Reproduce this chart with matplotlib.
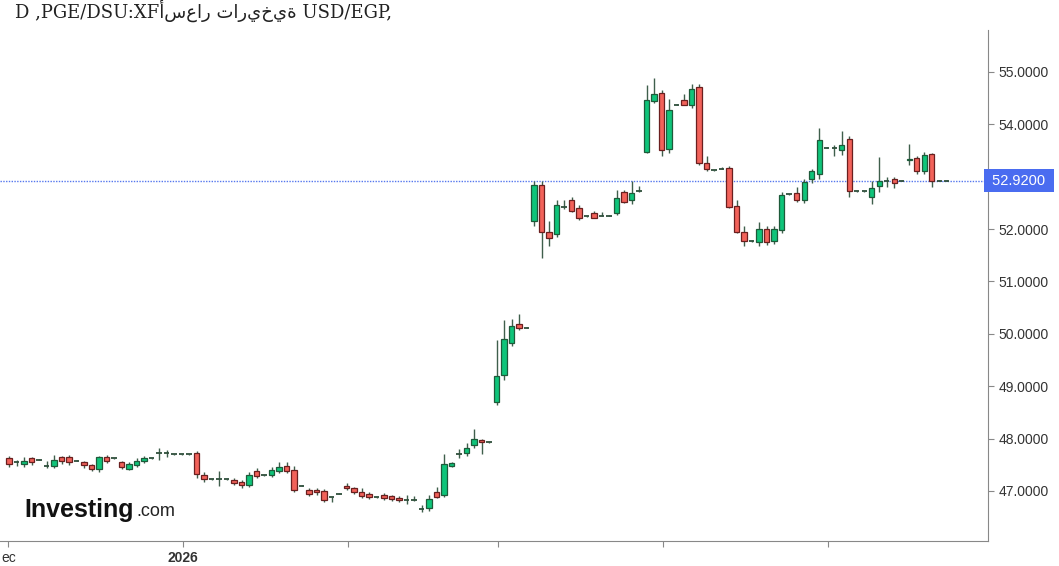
import matplotlib
matplotlib.use("Agg")
import matplotlib.pyplot as plt

# daily OHLC, USD/EGP
opens = [47.62, 47.55, 47.52, 47.62, 47.60, 47.48, 47.48, 47.64, 47.64, 47.58,
         47.55, 47.50, 47.42, 47.64, 47.62, 47.55, 47.42, 47.50, 47.58, 47.62,
         47.72, 47.72, 47.70, 47.70, 47.70, 47.72, 47.30, 47.22, 47.22, 47.22,
         47.20, 47.17, 47.12, 47.38, 47.30, 47.30, 47.38, 47.47, 47.40, 47.10,
         47.02, 47.02, 47.00, 46.88, 46.95, 47.10, 47.05, 46.98, 46.95, 46.88,
         46.93, 46.90, 46.86, 46.82, 46.82, 46.66, 46.68, 46.98, 46.93, 47.48,
         47.70, 47.72, 47.88, 47.97, 47.93,
         48.70, 49.21, 49.82, 50.18, 50.12, 52.15, 52.85, 51.95, 51.90, 52.42,
         52.55, 52.40, 52.24, 52.30, 52.25, 52.25, 52.30, 52.70, 52.55, 52.72,
         53.47, 54.44, 54.60, 53.52, 54.37, 54.47, 54.37, 54.71, 53.26, 53.12,
         53.15, 53.17, 52.44, 51.95, 51.78, 51.75, 52.00, 51.78, 51.98, 52.66,
         52.68, 52.55, 52.95, 53.05, 53.55, 53.55, 53.50, 53.72, 52.72, 52.72,
         52.62, 52.82, 52.92, 52.95, 52.92, 53.32, 53.36, 53.11, 53.44, 52.92, 52.92]
highs = [47.66, 47.60, 47.64, 47.64, 47.61, 47.58, 47.68, 47.66, 47.68, 47.59,
         47.58, 47.52, 47.66, 47.68, 47.63, 47.58, 47.56, 47.62, 47.66, 47.63,
         47.82, 47.78, 47.71, 47.71, 47.71, 47.76, 47.36, 47.23, 47.38, 47.23,
         47.24, 47.20, 47.36, 47.44, 47.31, 47.46, 47.56, 47.56, 47.48, 47.11,
         47.06, 47.06, 47.04, 46.89, 46.96, 47.16, 47.08, 47.06, 46.98, 46.89,
         46.96, 46.92, 46.90, 46.92, 46.90, 46.74, 46.92, 47.08, 47.70, 47.56,
         47.80, 47.92, 48.18, 48.00, 47.94,
         49.88, 50.26, 50.28, 50.38, 50.13, 52.92, 52.92, 52.15, 52.55, 52.55,
         52.62, 52.46, 52.25, 52.34, 52.32, 52.26, 52.75, 52.74, 52.92, 52.82,
         54.75, 54.88, 54.65, 54.48, 54.38, 54.58, 54.76, 54.76, 53.40, 53.13,
         53.18, 53.20, 52.55, 52.05, 51.80, 52.14, 52.06, 52.06, 52.70, 52.67,
         52.80, 52.96, 53.15, 53.92, 53.56, 53.60, 53.88, 53.78, 52.73, 52.73,
         52.92, 53.38, 53.00, 53.00, 52.93, 53.62, 53.40, 53.48, 53.46, 52.93, 52.93]
lows = [47.46, 47.48, 47.46, 47.50, 47.59, 47.44, 47.44, 47.52, 47.50, 47.57,
        47.44, 47.38, 47.36, 47.54, 47.61, 47.42, 47.40, 47.46, 47.54, 47.61,
        47.60, 47.64, 47.69, 47.69, 47.69, 47.24, 47.18, 47.21, 47.10, 47.21,
        47.12, 47.06, 47.08, 47.24, 47.29, 47.26, 47.34, 47.34, 46.98, 47.09,
        46.90, 46.92, 46.78, 46.78, 46.94, 47.02, 46.94, 46.86, 46.84, 46.87,
        46.82, 46.80, 46.78, 46.76, 46.80, 46.60, 46.62, 46.86, 46.88, 47.46,
        47.62, 47.66, 47.82, 47.70, 47.92,
        48.64, 49.12, 49.76, 50.08, 50.11, 52.05, 51.45, 51.68, 51.85, 52.38,
        52.32, 52.18, 52.23, 52.22, 52.24, 52.24, 52.26, 52.50, 52.48, 52.70,
        53.45, 54.40, 53.40, 53.45, 54.36, 54.37, 54.32, 53.22, 53.10, 53.11,
        53.14, 52.40, 51.92, 51.68, 51.76, 51.68, 51.70, 51.72, 51.92, 52.65,
        52.52, 52.50, 52.88, 52.96, 53.54, 53.40, 53.42, 52.62, 52.71, 52.71,
        52.48, 52.70, 52.80, 52.78, 52.91, 53.22, 53.05, 53.06, 52.80, 52.91, 52.91]
closes = [47.52, 47.55, 47.58, 47.55, 47.60, 47.48, 47.60, 47.58, 47.55, 47.58,
          47.49, 47.42, 47.64, 47.58, 47.62, 47.45, 47.52, 47.58, 47.62, 47.62,
          47.72, 47.72, 47.70, 47.70, 47.70, 47.32, 47.22, 47.22, 47.22, 47.22,
          47.16, 47.12, 47.30, 47.28, 47.30, 47.40, 47.45, 47.38, 47.02, 47.10,
          46.95, 46.98, 46.82, 46.88, 46.95, 47.05, 46.98, 46.90, 46.88, 46.88,
          46.86, 46.84, 46.82, 46.82, 46.82, 46.66, 46.85, 46.89, 47.52, 47.54,
          47.70, 47.82, 48.00, 47.94, 47.93,
          49.20, 49.90, 50.15, 50.12, 50.12, 52.85, 51.95, 51.82, 52.45, 52.42,
          52.35, 52.22, 52.24, 52.22, 52.25, 52.25, 52.60, 52.52, 52.68, 52.72,
          54.47, 54.57, 53.50, 54.28, 54.37, 54.37, 54.68, 53.26, 53.14, 53.12,
          53.15, 52.42, 51.94, 51.78, 51.78, 52.00, 51.75, 52.00, 52.65, 52.66,
          52.55, 52.90, 53.10, 53.70, 53.55, 53.55, 53.60, 52.72, 52.72, 52.72,
          52.78, 52.92, 52.92, 52.88, 52.92, 53.34, 53.11, 53.42, 52.92, 52.92, 52.92]
last_price = 52.92
y_ticks = [47, 48, 49, 50, 51, 52, 54, 55]   # 53 is hidden under the price tag
x_tick_pos = [-0.1, 23.2, 45.2, 65.2, 87.2, 109.2]
x_tick_labels = ["ec", "2026", "", "", "", ""]

UP = "#0fc47a"
DOWN = "#f2625a"

fig = plt.figure(figsize=(10.59, 5.66), dpi=100)
ax = fig.add_axes([0, 25 / 566, 988 / 1059, 511 / 566])

w = 0.72
for i, (o, h, l, c) in enumerate(zip(opens, highs, lows, closes)):
    up = c >= o
    ax.vlines(i, l, h, color="#3f5f4c", linewidth=1, zorder=2)
    body = abs(c - o)
    if body < 0.015:
        ax.hlines(o, i - w / 2, i + w / 2, color="#2f4f3c", linewidth=1.3, zorder=3)
    else:
        ax.bar(i, body, bottom=min(o, c), width=w,
               color=UP if up else DOWN,
               edgecolor="#1e5a3a" if up else "#6a1f1f", linewidth=0.9, zorder=3)

ax.axhline(last_price, color="#5577ee", linestyle=(0, (1, 1)), linewidth=1, zorder=1)

ax.set_xlim(-1.2, 130.5)
ax.set_ylim(46.045, 55.80)
ax.yaxis.tick_right()
ax.set_yticks(y_ticks)
ax.set_yticklabels(["%.4f" % v for v in y_ticks], fontsize=10, color="#333333",
                   family="Liberation Sans")
ax.set_xticks(x_tick_pos)
ax.set_xticklabels(x_tick_labels, fontsize=10, color="#333333", family="Liberation Sans")
ax.get_xticklabels()[1].set_fontweight("bold")
ax.tick_params(axis="both", length=4, color="#888888")
for s in ["top", "left"]:
    ax.spines[s].set_visible(False)
ax.spines["right"].set_color("#888888")
ax.spines["bottom"].set_color("#888888")

ax.text(1.0, last_price, " 52.9200 ", transform=ax.get_yaxis_transform(),
        ha="left", va="center", fontsize=10.5, color="white", family="Liberation Sans",
        bbox=dict(boxstyle="square,pad=0.3", facecolor="#4a6cf0", edgecolor="none"))

fig.text(15 / 1059, 1 - 11 / 566, "D ,PGE/DSU:XFأسعار تاريخية USD/EGP,", ha="left", va="center",
         fontsize=13, family=["DejaVu Serif", "DejaVu Sans"], color="#222222")
fig.text(24 / 1059, 1 - 510 / 566, "Investing", ha="left", va="center", fontsize=18,
         fontweight="bold", family="Liberation Sans", color="#111111")
fig.text(136 / 1059, 1 - 512 / 566, ".com", ha="left", va="center", fontsize=13,
         family="Liberation Sans", color="#222222")

fig.savefig("out.png", dpi=100)
